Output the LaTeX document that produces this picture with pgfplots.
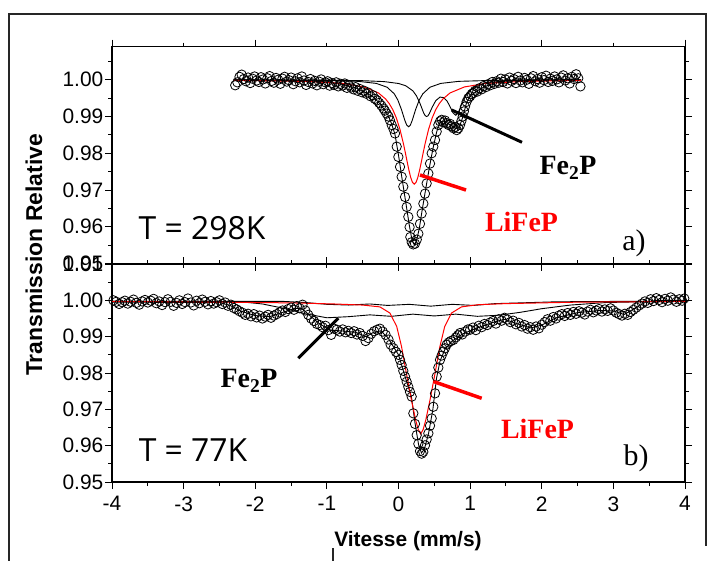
\documentclass[border=0pt]{standalone}
\usepackage{fontspec}
\setmainfont{Liberation Sans}
\newfontfamily\timesf{Liberation Serif}
\newfontfamily\comicf{Open Sans}
\newcommand\tk{\fontsize{21}{21}\selectfont}
\usepackage{pgfplots}
\pgfplotsset{compat=1.18}
\pgfplotsset{
  common/.style={
    scale only axis, width=573bp, xmin=-4, xmax=4,
    axis line style={line width=1.3bp},
    tick align=outside, major tick length=7bp, minor tick length=4bp,
    every tick/.style={black, line width=1bp},
    every tick label/.append style={font=\tk},
    /pgf/number format/assume math mode=true,
    yticklabel style={inner sep=1.5bp, font=\tk},
    xticklabel style={yshift=-4bp, font=\tk},
    data/.style={only marks, mark=o, mark size=4.7bp, mark options={line width=0.8bp, black}},
    fitline/.style={black, line width=0.9bp, mark=none},
    redline/.style={red, line width=1bp, mark=none},
  }
}
\begin{document}
\begin{tikzpicture}
\begin{scope}[x=1bp,y=1bp]
\path[use as bounding box] (0,0) rectangle (717,-561);
\draw[line width=1.2bp, black!85] (9,-561)--(9,-14)--(706,-14)--(706,-546);
\draw[line width=1.2bp, black!85] (333,-548)--(333,-561);
\end{scope}

% ---------------- top panel -----------------
\begin{axis}[common, at={(112bp,-46.7bp)}, anchor=north west, height=216.8bp,
  ymin=0.95, ymax=1.009,
  ytick={0.95,0.96,0.97,0.98,0.99,1.00},
  yticklabels={{\tk 0.95},{\tk 0.96},{\tk 0.97},{\tk 0.98},{\tk 0.99},{\tk 1.00}},
  minor ytick={0.955,0.965,0.975,0.985,0.995,1.005},
  xtick={-4,-2,0,2,4}, minor xtick={-3,-1,1,3}, xticklabels={}]
\addplot[data] coordinates {
(-2.28,0.9985)(-2.25,0.9993)(-2.22,1.0008)(-2.19,1.0014)(-2.16,1.0002)(-2.13,0.9996)(-2.10,1.0006)(-2.07,0.9991)(-2.04,1.0003)(-2.01,1.0009)
(-1.98,0.9998)(-1.95,0.9994)(-1.92,1.0007)(-1.89,1.0001)(-1.86,0.9990)(-1.83,1.0004)(-1.80,1.0010)(-1.77,0.9997)(-1.74,0.9992)(-1.71,1.0005)
(-1.68,1.0000)(-1.65,0.9989)(-1.62,1.0003)(-1.59,1.0008)(-1.56,0.9995)(-1.53,0.9999)(-1.50,1.0006)(-1.47,0.9988)(-1.44,0.9996)(-1.41,1.0004)
(-1.38,0.9993)(-1.35,1.0009)(-1.32,0.9998)(-1.29,0.9986)(-1.26,0.9994)(-1.23,1.0002)(-1.20,0.9990)(-1.17,0.9997)(-1.14,0.9985)(-1.11,0.9995)
(-1.08,1.0001)(-1.05,0.9988)(-1.02,0.9993)(-0.99,0.9996)(-0.96,0.9984)(-0.93,0.9991)(-0.90,0.9986)(-0.87,0.9993)(-0.84,0.9982)(-0.81,0.9989)
(-0.78,0.9984)(-0.75,0.9990)(-0.72,0.9978)(-0.69,0.9985)(-0.66,0.9979)(-0.63,0.9974)(-0.60,0.9980)(-0.57,0.9970)(-0.54,0.9975)(-0.51,0.9966)
(-0.48,0.9970)(-0.45,0.9962)(-0.42,0.9965)(-0.39,0.9955)(-0.36,0.9958)(-0.33,0.9948)(-0.30,0.9944)(-0.27,0.9937)(-0.24,0.9930)(-0.21,0.9922)
(-0.19,0.9916)(-0.165,0.9908)(-0.14,0.9900)(-0.12,0.9890)(-0.095,0.9877)(-0.07,0.9866)(-0.049,0.9854)(-0.025,0.9818)(-0.002,0.9790)(0.021,0.9763)
(0.044,0.9736)(0.067,0.9709)(0.091,0.9681)(0.114,0.9654)(0.137,0.9627)(0.155,0.9599)(0.165,0.9572)(0.184,0.9558)(0.205,0.9552)(0.230,0.9554)
(0.255,0.9565)(0.277,0.9581)(0.300,0.9608)(0.323,0.9636)(0.347,0.9663)(0.370,0.9690)(0.393,0.9718)(0.417,0.9745)(0.440,0.9772)(0.463,0.9800)
(0.486,0.9818)(0.510,0.9836)(0.533,0.9859)(0.556,0.9877)(0.580,0.9887)(0.603,0.9891)(0.627,0.9884)(0.650,0.9889)(0.673,0.9882)(0.697,0.9877)
(0.720,0.9880)(0.743,0.9873)(0.767,0.9868)(0.790,0.9871)(0.813,0.9863)(0.836,0.9868)(0.859,0.9877)(0.878,0.9888)(0.897,0.9900)(0.913,0.9914)
(0.928,0.9927)(0.950,0.9940)(0.975,0.9950)(1.000,0.9955)(1.022,0.9961)(1.045,0.9964)(1.07,0.9970)(1.10,0.9968)(1.13,0.9977)(1.16,0.9974)
(1.19,0.9983)(1.22,0.9980)(1.25,0.9988)(1.28,0.9985)(1.31,0.9994)(1.34,0.9989)(1.37,0.9996)(1.40,0.9992)(1.43,1.0003)(1.46,0.9994)
(1.49,1.0001)(1.52,0.9990)(1.55,1.0006)(1.58,0.9997)(1.61,1.0002)(1.64,0.9991)(1.67,1.0008)(1.70,0.9998)(1.73,0.9993)(1.76,1.0005)
(1.79,1.0000)(1.82,0.9989)(1.85,1.0004)(1.88,1.0010)(1.91,0.9996)(1.94,1.0002)(1.97,0.9992)(2.00,1.0007)(2.03,0.9999)(2.06,1.0011)
(2.09,0.9994)(2.12,1.0003)(2.15,0.9997)(2.18,1.0009)(2.21,1.0001)(2.24,0.9993)(2.27,1.0006)(2.30,1.0012)(2.33,0.9998)(2.36,1.0004)
(2.39,0.9990)(2.42,1.0008)(2.45,1.0002)(2.48,1.0015)(2.51,1.0004)(2.54,0.9982)
};
% total fit
\addplot[fitline] coordinates {
(-2.3,1.0000)(-1.2,0.9997)(-1.0,0.9994)(-0.8,0.9988)(-0.6,0.9978)(-0.45,0.9964)(-0.35,0.9953)(-0.25,0.9933)(-0.15,0.9905)(-0.1,0.9882)
(-0.05,0.9852)(0,0.9795)(0.05,0.9730)(0.1,0.9668)(0.15,0.9605)(0.19,0.9562)(0.22,0.9551)(0.25,0.9561)(0.29,0.9595)(0.33,0.9645)
(0.38,0.9703)(0.43,0.9760)(0.48,0.9812)(0.53,0.9856)(0.57,0.9882)(0.62,0.9888)(0.7,0.9880)(0.8,0.9867)(0.85,0.9872)(0.9,0.9900)
(0.95,0.9938)(1.0,0.9956)(1.1,0.9970)(1.2,0.9981)(1.35,0.9992)(1.5,0.9998)(2.0,1.0000)(2.55,1.0000)
};
% Fe2P component A
\addplot[fitline] coordinates {
(-2.3,0.99996)(-1.06,0.99985)(-0.56,0.99957)(-0.31,0.99901)(-0.16,0.99798)(-0.06,0.9962)(-0.01,0.99451)(0.04,0.99196)(0.09,0.98885)(0.115,0.98766)
(0.14,0.9872)(0.165,0.98766)(0.19,0.98885)(0.24,0.99196)(0.29,0.99451)(0.34,0.9962)(0.44,0.99798)(0.59,0.99901)(0.84,0.99957)(1.34,0.99985)(2.55,0.99996)
};
% Fe2P component B
\addplot[fitline] coordinates {
(-2.3,0.99997)(-1.0,0.99989)(-0.5,0.99975)(-0.2,0.9995)(0.0,0.99899)(0.1,0.99838)(0.2,0.997)(0.25,0.99565)(0.3,0.99356)(0.35,0.99103)
(0.37,0.9903)(0.39,0.9900)(0.41,0.99017)(0.43,0.99077)(0.47,0.99251)(0.52,0.99432)(0.58,0.99529)(0.63,0.99514)(0.68,0.99414)(0.72,0.99268)
(0.76,0.99101)(0.80,0.99032)(0.84,0.99132)(0.88,0.99327)(0.93,0.99543)(1.0,0.99729)(1.1,0.99851)(1.25,0.99927)(1.5,0.99964)(2.0,0.99986)(2.55,0.99993)
};
% LiFeP
\addplot[redline] coordinates {
(-2.3,0.99984)(-1.28,0.99955)(-0.78,0.99901)(-0.48,0.99805)(-0.28,0.99642)(-0.18,0.99477)(-0.13,0.99353)(-0.08,0.99187)(-0.03,0.9896)(0.02,0.98653)
(0.07,0.9825)(0.095,0.98018)(0.12,0.97776)(0.145,0.97543)(0.17,0.97344)(0.195,0.97208)(0.22,0.9716)(0.245,0.97208)(0.27,0.97344)(0.295,0.97543)
(0.32,0.97776)(0.345,0.98018)(0.37,0.9825)(0.42,0.98653)(0.47,0.9896)(0.52,0.99187)(0.57,0.99353)(0.62,0.99477)(0.72,0.99642)(0.92,0.99805)
(1.22,0.99901)(1.72,0.99955)(2.55,0.99981)
};
\end{axis}

% ---------------- bottom panel -----------------
\begin{axis}[common, at={(112bp,-264bp)}, anchor=north west, height=218bp,
  ymin=0.95, ymax=1.01,
  ytick={0.95,0.96,0.97,0.98,0.99,1.00,1.01},
  yticklabels={{\tk 0.95},{\tk 0.96},{\tk 0.97},{\tk 0.98},{\tk 0.99},{\tk 1.00},{\tk 1.01}},
  minor ytick={0.955,0.965,0.975,0.985,0.995,1.005},
  xtick={-4,-3,-2,-1,0,1,2,3,4},
  xticklabels={{\tk -4},{\tk -3},{\tk -2},{\tk -1},{\tk 0},{\tk 1},{\tk 2},{\tk 3},{\tk 4}},
  minor xtick={-3.5,-2.5,-1.5,-0.5,0.5,1.5,2.5,3.5}]
\addplot[data] coordinates {
(-3.98,1.0000)(-3.94,0.9996)(-3.90,0.9990)(-3.86,0.9995)(-3.82,0.9999)(-3.78,0.9991)(-3.74,0.9996)(-3.70,1.0002)(-3.66,0.9993)(-3.62,0.9988)
(-3.58,0.9997)(-3.54,1.0001)(-3.50,0.9994)(-3.46,0.9999)(-3.42,1.0004)(-3.38,0.9992)(-3.34,0.9997)(-3.30,0.9987)(-3.26,0.9995)(-3.22,1.0003)
(-3.18,0.9996)(-3.14,0.9985)(-3.10,0.9993)(-3.06,1.0000)(-3.02,0.9990)(-2.98,0.9995)(-2.94,1.0005)(-2.90,0.9994)(-2.86,0.9986)(-2.82,0.9999)
(-2.78,0.9992)(-2.74,1.0002)(-2.70,0.9996)(-2.66,0.9989)(-2.62,0.9998)(-2.58,0.9991)(-2.54,0.9995)(-2.50,1.0000)(-2.46,0.9990)(-2.42,0.9994)
(-2.38,0.9985)(-2.34,0.9988)(-2.30,0.9979)(-2.26,0.9975)(-2.22,0.9970)(-2.18,0.9966)(-2.14,0.9960)(-2.10,0.9963)(-2.06,0.9956)(-2.02,0.9962)
(-1.98,0.9953)(-1.94,0.9958)(-1.90,0.9950)(-1.86,0.9955)(-1.82,0.9960)(-1.78,0.9952)(-1.74,0.9958)(-1.70,0.9962)(-1.66,0.9967)(-1.62,0.9972)
(-1.58,0.9968)(-1.54,0.9976)(-1.50,0.9980)(-1.46,0.9974)(-1.42,0.9984)(-1.38,0.9978)(-1.34,0.9988)(-1.30,0.9972)(-1.26,0.9960)(-1.22,0.9950)
(-1.18,0.9943)(-1.14,0.9935)(-1.10,0.9932)(-1.06,0.9926)(-1.02,0.9930)(-0.98,0.9918)(-0.94,0.9905)(-0.90,0.9922)(-0.86,0.9919)(-0.82,0.9914)
(-0.78,0.9920)(-0.74,0.9912)(-0.70,0.9916)(-0.66,0.9910)(-0.62,0.9915)(-0.58,0.9906)(-0.54,0.9910)(-0.50,0.9902)(-0.46,0.9888)(-0.42,0.9896)
(-0.38,0.9908)(-0.34,0.9915)(-0.30,0.9919)(-0.26,0.9922)(-0.22,0.9914)(-0.18,0.9905)(-0.14,0.9892)(-0.11,0.9878)(-0.07,0.9868)(-0.035,0.9858)
(-0.002,0.9850)(0.022,0.9836)(0.044,0.9822)(0.067,0.9806)(0.091,0.9790)(0.114,0.9776)(0.137,0.9762)(0.160,0.9748)(0.184,0.9735)(0.207,0.9689)
(0.230,0.9660)(0.254,0.9629)(0.277,0.9605)(0.300,0.9585)(0.323,0.9578)(0.346,0.9583)(0.370,0.9601)(0.393,0.9617)(0.417,0.9634)(0.440,0.9655)
(0.463,0.9675)(0.486,0.9707)(0.510,0.9744)(0.533,0.9790)(0.556,0.9815)(0.579,0.9836)(0.602,0.9848)(0.626,0.9859)(0.649,0.9868)(0.672,0.9878)
(0.700,0.9884)(0.730,0.9888)(0.766,0.9891)(0.800,0.9898)(0.830,0.9904)(0.859,0.9910)(0.89,0.9906)(0.93,0.9914)(0.97,0.9920)(1.00,0.9919)
(1.04,0.9925)(1.08,0.9918)(1.12,0.9930)(1.16,0.9926)(1.20,0.9935)(1.24,0.9932)(1.28,0.9939)(1.32,0.9943)(1.36,0.9936)(1.40,0.9948)
(1.44,0.9944)(1.48,0.9952)(1.52,0.9947)(1.56,0.9940)(1.60,0.9944)(1.64,0.9934)(1.68,0.9938)(1.72,0.9928)(1.76,0.9932)(1.80,0.9922)
(1.84,0.9926)(1.88,0.9919)(1.92,0.9928)(1.96,0.9923)(2.00,0.9933)(2.04,0.9940)(2.08,0.9948)(2.12,0.9944)(2.16,0.9954)(2.20,0.9950)
(2.24,0.9958)(2.28,0.9962)(2.32,0.9957)(2.36,0.9965)(2.40,0.9960)(2.44,0.9968)(2.48,0.9963)(2.52,0.9970)(2.56,0.9966)(2.60,0.9961)
(2.64,0.9969)(2.68,0.9974)(2.72,0.9967)(2.76,0.9972)(2.80,0.9976)(2.84,0.9969)(2.88,0.9975)(2.92,0.9971)(2.96,0.9978)(3.00,0.9972)
(3.04,0.9966)(3.08,0.9962)(3.12,0.9958)(3.16,0.9963)(3.20,0.9960)(3.24,0.9968)(3.28,0.9974)(3.32,0.9980)(3.36,0.9986)(3.40,0.9991)
(3.44,0.9997)(3.48,0.9993)(3.52,1.0003)(3.56,0.9998)(3.60,1.0006)(3.64,1.0001)(3.68,0.9995)(3.72,1.0004)(3.76,0.9999)(3.80,1.0008)
(3.84,1.0002)(3.88,0.9996)(3.92,1.0003)(3.96,0.9999)(3.99,1.0005)
};
% total fit
\addplot[fitline] coordinates {
(-4,0.9995)(-2.5,0.9994)(-2.35,0.9986)(-2.2,0.9970)(-2.0,0.9958)(-1.8,0.9955)(-1.6,0.9968)(-1.45,0.9978)(-1.35,0.9978)(-1.25,0.9960)
(-1.1,0.9935)(-0.95,0.9918)(-0.8,0.9916)(-0.6,0.9912)(-0.45,0.9900)(-0.35,0.9912)(-0.25,0.9916)(-0.15,0.9898)(-0.07,0.9872)(0.0,0.9850)
(0.1,0.9785)(0.18,0.9735)(0.23,0.9663)(0.28,0.9603)(0.32,0.9580)(0.36,0.9590)(0.42,0.9634)(0.48,0.9700)(0.53,0.9785)(0.58,0.9833)
(0.65,0.9866)(0.75,0.9888)(0.9,0.9908)(1.1,0.9924)(1.3,0.9938)(1.48,0.9948)(1.65,0.9936)(1.85,0.9924)(2.0,0.9932)(2.2,0.9952)
(2.5,0.9966)(2.8,0.9972)(3.0,0.9971)(3.15,0.9961)(3.3,0.9978)(3.45,0.9995)(3.6,1.0000)(4,1.0000)
};
% Fe2P upper component
\addplot[fitline] coordinates {
(-4,0.9997)(-1.6,0.9997)(-1.3,0.9994)(-1.0,0.9989)(-0.7,0.9987)(-0.4,0.9990)(-0.15,0.9986)(0.15,0.9989)(0.45,0.9984)(0.75,0.9989)
(1.05,0.9986)(1.35,0.9991)(1.7,0.9993)(2.2,0.9996)(3,0.9997)(4,0.9997)
};
% Fe2P lower component
\addplot[fitline] coordinates {
(-4,0.9997)(-2.2,0.9996)(-1.9,0.9990)(-1.6,0.9978)(-1.3,0.9963)(-1.0,0.9952)(-0.7,0.9955)(-0.4,0.9960)(-0.1,0.9956)(0.2,0.9962)
(0.5,0.9957)(0.8,0.9962)(1.1,0.9956)(1.4,0.9959)(1.7,0.9967)(2.0,0.9977)(2.4,0.9987)(2.9,0.9994)(3.4,0.9996)(4,0.9997)
};
% LiFeP
\addplot[redline] coordinates {
(-4,0.9997)(-2.5,0.9995)(-1.5,0.9993)(-0.9,0.9990)(-0.5,0.9987)(-0.26,0.9982)(-0.12,0.9965)(-0.025,0.9928)(0.042,0.9873)(0.11,0.9799)
(0.18,0.9726)(0.24,0.9670)(0.275,0.9645)(0.31,0.9632)(0.345,0.9645)(0.38,0.9670)(0.44,0.9726)(0.51,0.9799)(0.578,0.9873)(0.645,0.9928)
(0.74,0.9965)(0.88,0.9982)(1.11,0.9988)(1.5,0.9991)(2.5,0.9995)(4,0.9997)
};
\end{axis}

% ---------------- annotations -----------------
\begin{scope}[x=1bp,y=1bp]
\node[font=\comicf\fontsize{32}{32}\selectfont, anchor=center] at (202,-228) {T = 298K};
\node[font=\comicf\fontsize{32}{32}\selectfont, anchor=center] at (193,-450) {T = 77K};
\draw[black, line width=3bp] (451.7,-110)--(522,-142.3);
\node[font=\timesf\bfseries\fontsize{28}{28}\selectfont, anchor=center] at (568,-168) {Fe\textsubscript{2}P};
\draw[red, line width=3.5bp] (420,-175)--(466,-190);
\node[font=\timesf\bfseries\fontsize{28}{28}\selectfont, text=red, anchor=center] at (521.5,-222) {LiFeP};
\node[font=\timesf\fontsize{30}{30}\selectfont, anchor=center] at (634,-243) {a)};
\draw[black, line width=3bp] (338.3,-318.3)--(298.3,-358.3);
\node[font=\timesf\bfseries\fontsize{28}{28}\selectfont, anchor=center] at (249,-381) {Fe\textsubscript{2}P};
\draw[red, line width=3.5bp] (434,-381.7)--(481.7,-398.3);
\node[font=\timesf\bfseries\fontsize{28}{28}\selectfont, text=red, anchor=center] at (537.5,-429) {LiFeP};
\node[font=\timesf\fontsize{30}{30}\selectfont, anchor=center] at (636,-458) {b)};
\node[font=\bfseries\fontsize{21}{21}\selectfont, anchor=center] at (408,-541) {Vitesse (mm/s)};
\node[font=\bfseries\fontsize{23}{23}\selectfont, anchor=center, rotate=90] at (34,-255) {Transmission Relative};
\end{scope}
\end{tikzpicture}
\end{document}
